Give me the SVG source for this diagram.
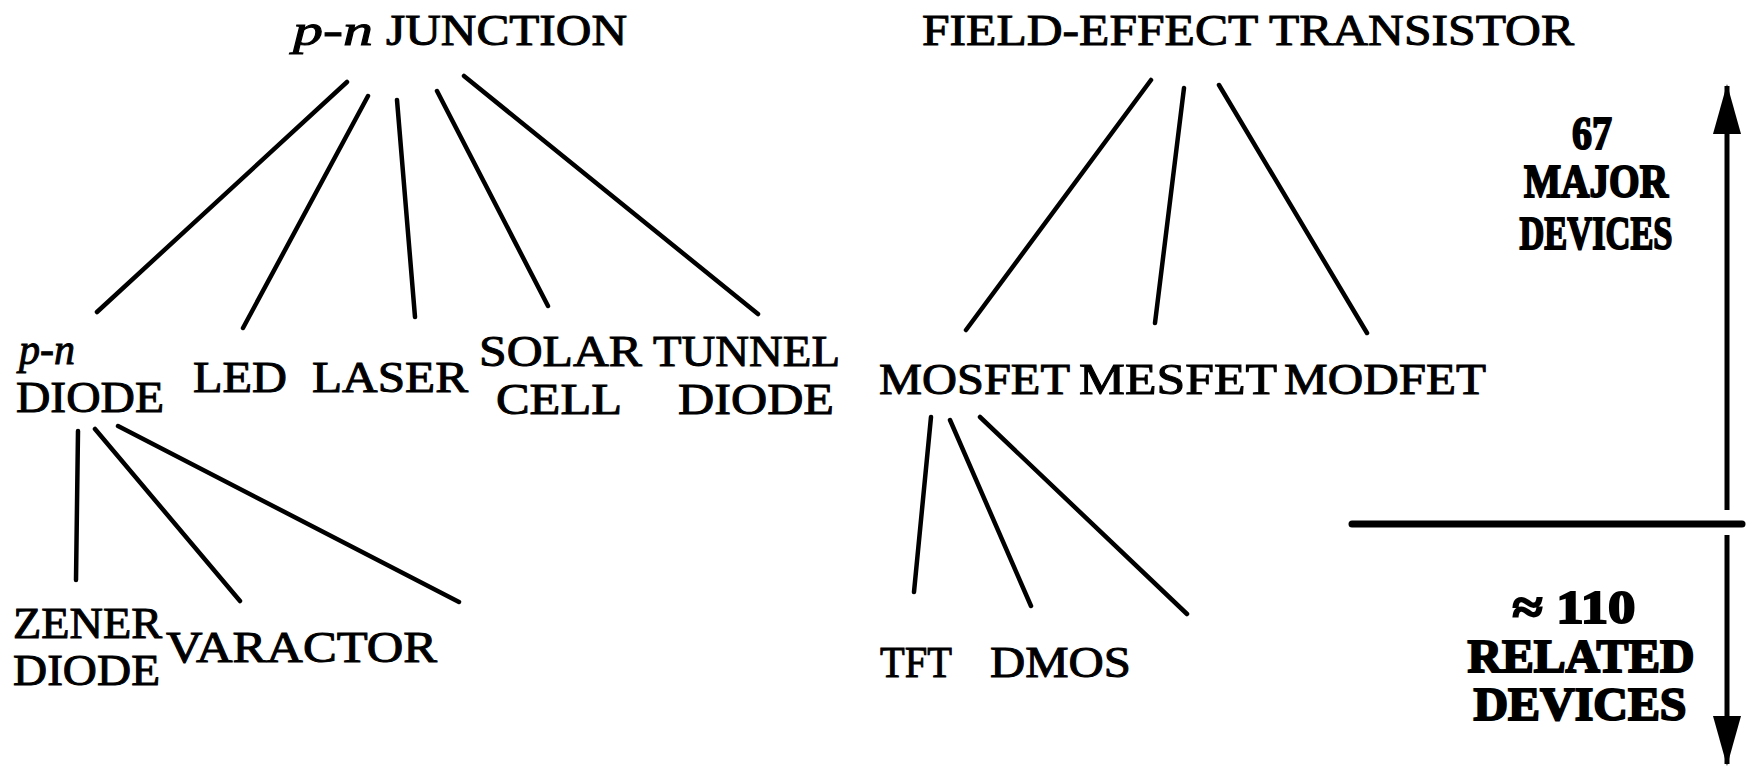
<svg xmlns="http://www.w3.org/2000/svg" width="1756" height="767" viewBox="0 0 1756 767">
<style>
text{font-family:"Liberation Serif","Times New Roman",serif;fill:#000;stroke:#000;stroke-width:1}
.t{font-size:45px}
.it{font-style:italic}
.b{font-size:47px;font-weight:bold;text-anchor:middle;stroke-width:2}
.ln{stroke:#000;stroke-width:4.5;stroke-linecap:round;fill:none}
.ax{stroke:#000;stroke-width:5;fill:none}
</style>
<defs>
<marker id="ah" viewBox="0 0 50 28" refX="48" refY="14" markerWidth="50" markerHeight="28" markerUnits="userSpaceOnUse" orient="auto">
<path d="M0,0 L50,14 L0,28 Z" fill="#000"/>
</marker>
</defs>
<rect width="1756" height="767" fill="#fff"/>
<g id="connectors">
<line class="ln" x1="347" y1="82" x2="97" y2="312"/>
<line class="ln" x1="368" y1="96" x2="243" y2="328"/>
<line class="ln" x1="397" y1="100" x2="415" y2="317"/>
<line class="ln" x1="437" y1="91" x2="548" y2="306"/>
<line class="ln" x1="464" y1="76" x2="758" y2="314"/>
<line class="ln" x1="78" y1="431" x2="76" y2="580"/>
<line class="ln" x1="95" y1="429" x2="240" y2="601"/>
<line class="ln" x1="118" y1="426" x2="459" y2="602"/>
<line class="ln" x1="1151" y1="80" x2="966" y2="330"/>
<line class="ln" x1="1184" y1="88" x2="1155" y2="323"/>
<line class="ln" x1="1219" y1="85" x2="1367" y2="333"/>
<line class="ln" x1="931" y1="417" x2="914" y2="592"/>
<line class="ln" x1="950" y1="420" x2="1031" y2="606"/>
<line class="ln" x1="980" y1="417" x2="1187" y2="614"/>
</g>
<g id="scale">
<line class="ax" x1="1727" y1="510" x2="1727" y2="86" marker-end="url(#ah)"/>
<line class="ax" x1="1727" y1="535" x2="1727" y2="764" marker-end="url(#ah)"/>
<line x1="1352" y1="524" x2="1742" y2="524" stroke="#000" stroke-width="7" stroke-linecap="round"/>
</g>
<g id="pn-junction"><text class="t" x="293" y="45"><tspan class="it" textLength="80" lengthAdjust="spacingAndGlyphs">p-n</tspan><tspan x="386" textLength="241" lengthAdjust="spacingAndGlyphs">JUNCTION</tspan></text></g>
<g id="fet"><text class="t" x="922" y="45" textLength="652" lengthAdjust="spacingAndGlyphs">FIELD-EFFECT TRANSISTOR</text></g>
<g id="pn-diode"><text class="t it" x="19" y="364" textLength="56" lengthAdjust="spacingAndGlyphs">p-n</text><text class="t" x="16" y="412" textLength="148" lengthAdjust="spacingAndGlyphs">DIODE</text></g>
<g id="led"><text class="t" x="193" y="392" textLength="94" lengthAdjust="spacingAndGlyphs">LED</text></g>
<g id="laser"><text class="t" x="312" y="392" textLength="156" lengthAdjust="spacingAndGlyphs">LASER</text></g>
<g id="solar-cell"><text class="t" x="479" y="366" textLength="163" lengthAdjust="spacingAndGlyphs">SOLAR</text><text class="t" x="496" y="414" textLength="126" lengthAdjust="spacingAndGlyphs">CELL</text></g>
<g id="tunnel-diode"><text class="t" x="653" y="366" textLength="187" lengthAdjust="spacingAndGlyphs">TUNNEL</text><text class="t" x="678" y="414" textLength="156" lengthAdjust="spacingAndGlyphs">DIODE</text></g>
<g id="zener-diode"><text class="t" x="13" y="638" textLength="149" lengthAdjust="spacingAndGlyphs">ZENER</text><text class="t" x="13" y="685" textLength="147" lengthAdjust="spacingAndGlyphs">DIODE</text></g>
<g id="varactor"><text class="t" x="166" y="662" textLength="271" lengthAdjust="spacingAndGlyphs">VARACTOR</text></g>
<g id="mosfet"><text class="t" x="879" y="394" textLength="191" lengthAdjust="spacingAndGlyphs">MOSFET</text></g>
<g id="mesfet"><text class="t" x="1079" y="394" textLength="198" lengthAdjust="spacingAndGlyphs">MESFET</text></g>
<g id="modfet"><text class="t" x="1284" y="394" textLength="202" lengthAdjust="spacingAndGlyphs">MODFET</text></g>
<g id="tft"><text class="t" x="880" y="677" textLength="72" lengthAdjust="spacingAndGlyphs">TFT</text></g>
<g id="dmos"><text class="t" x="990" y="677" textLength="141" lengthAdjust="spacingAndGlyphs">DMOS</text></g>
<g id="major-label">
<text class="b" x="1592" y="149" textLength="40" lengthAdjust="spacingAndGlyphs">67</text>
<text class="b" x="1596" y="197" textLength="144" lengthAdjust="spacingAndGlyphs">MAJOR</text>
<text class="b" x="1596" y="249" textLength="153" lengthAdjust="spacingAndGlyphs">DEVICES</text>
</g>
<g id="related-label">
<text class="b" x="1574" y="623" textLength="123" lengthAdjust="spacingAndGlyphs">≈ 110</text>
<text class="b" x="1581" y="672" textLength="227" lengthAdjust="spacingAndGlyphs">RELATED</text>
<text class="b" x="1580" y="720" textLength="213" lengthAdjust="spacingAndGlyphs">DEVICES</text>
</g>
</svg>
